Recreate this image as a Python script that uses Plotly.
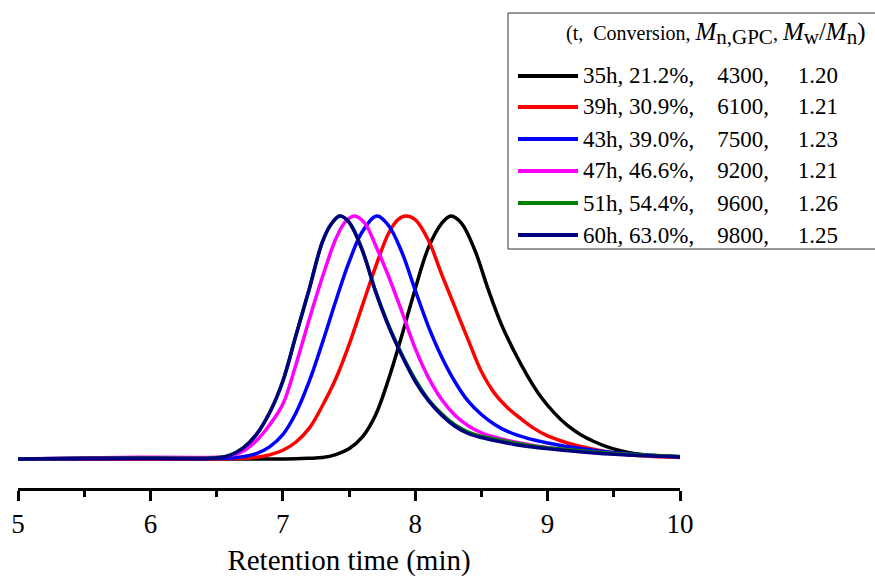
import plotly.graph_objects as go

# ---------------- data ----------------
times = ["35h", "39h", "43h", "47h", "51h", "60h"]
conversions = ["21.2%", "30.9%", "39.0%", "46.6%", "54.4%", "63.0%"]
mn_gpc = ["4300", "6100", "7500", "9200", "9600", "9800"]
pdi = ["1.20", "1.21", "1.23", "1.21", "1.26", "1.25"]
colors = ["#000000", "#FF0000", "#0000FF", "#FF00FF", "#008000", "#000080"]

x_35 = [5.0, 6.0, 6.8, 7.1, 7.2, 7.3, 7.4, 7.5, 7.6, 7.7, 7.8, 7.9, 8.0, 8.1, 8.2, 8.27, 8.35, 8.45, 8.55, 8.65,
        8.75, 8.85, 8.95, 9.05, 9.15, 9.25, 9.35, 9.45, 9.55, 9.65, 9.8, 10.0]
y_35 = [0.0, 0.0, 0.0, 0.001, 0.003, 0.006, 0.018, 0.042, 0.09, 0.18, 0.33, 0.51, 0.70, 0.87, 0.97, 1.0, 0.97, 0.86,
        0.70, 0.555, 0.44, 0.34, 0.255, 0.19, 0.138, 0.10, 0.072, 0.05, 0.034, 0.023, 0.014, 0.008]

x_39 = [5.0, 6.0, 6.5, 6.7, 6.8, 6.9, 7.0, 7.1, 7.2, 7.3, 7.4, 7.5, 7.6, 7.7, 7.8, 7.87, 7.93, 8.0, 8.1, 8.2,
        8.3, 8.4, 8.5, 8.6, 8.7, 8.8, 8.9, 9.0, 9.15, 9.3, 9.5, 9.75, 10.0]
y_39 = [0.0, 0.0, 0.001, 0.003, 0.007, 0.017, 0.036, 0.07, 0.127, 0.22, 0.33, 0.47, 0.63, 0.79, 0.93, 0.985, 1.0,
        0.985, 0.90, 0.76, 0.625, 0.49, 0.36, 0.27, 0.21, 0.165, 0.125, 0.095, 0.066, 0.045, 0.025, 0.012, 0.006]

x_43 = [5.0, 6.0, 6.5, 6.6, 6.7, 6.8, 6.9, 7.0, 7.1, 7.2, 7.3, 7.4, 7.5, 7.6, 7.71, 7.8, 7.9, 8.0, 8.1, 8.2,
        8.3, 8.4, 8.5, 8.6, 8.7, 8.85, 9.0, 9.2, 9.4, 9.7, 10.0]
y_43 = [0.0, 0.002, 0.002, 0.004, 0.009, 0.022, 0.05, 0.10, 0.19, 0.32, 0.48, 0.65, 0.81, 0.935, 1.0, 0.96, 0.85,
        0.695, 0.545, 0.42, 0.318, 0.238, 0.183, 0.142, 0.113, 0.085, 0.066, 0.047, 0.032, 0.018, 0.009]

x_47 = [5.0, 5.5, 5.9, 6.3, 6.5, 6.6, 6.7, 6.8, 6.9, 7.0, 7.1, 7.2, 7.3, 7.4, 7.47, 7.54, 7.62, 7.7, 7.8, 7.9,
        8.0, 8.1, 8.2, 8.3, 8.4, 8.5, 8.6, 8.75, 8.9, 9.1, 9.35, 9.7, 10.0]
y_47 = [0.0, 0.004, 0.007, 0.006, 0.007, 0.013, 0.032, 0.075, 0.14, 0.225, 0.39, 0.575, 0.75, 0.905, 0.975, 1.0,
        0.97, 0.88, 0.75, 0.605, 0.455, 0.335, 0.245, 0.18, 0.137, 0.108, 0.09, 0.07, 0.055, 0.04, 0.028, 0.016, 0.009]

x_51 = [5.0, 5.5, 6.0, 6.4, 6.5, 6.6, 6.7, 6.8, 6.9, 7.0, 7.1, 7.2, 7.3, 7.37, 7.43, 7.5, 7.6, 7.7, 7.8, 7.9,
        8.0, 8.1, 8.2, 8.3, 8.4, 8.5, 8.6, 8.75, 8.9, 9.1, 9.35, 9.7, 10.0]
y_51 = [0.0, 0.003, 0.004, 0.003, 0.005, 0.016, 0.046, 0.10, 0.19, 0.32, 0.51, 0.70, 0.895, 0.97, 1.0, 0.975,
        0.86, 0.692, 0.55, 0.430, 0.328, 0.245, 0.186, 0.141, 0.111, 0.094, 0.082, 0.066, 0.053, 0.041, 0.029, 0.017, 0.010]

x_60 = [5.0, 5.5, 6.0, 6.4, 6.5, 6.6, 6.7, 6.8, 6.9, 7.0, 7.1, 7.2, 7.3, 7.37, 7.43, 7.5, 7.6, 7.7, 7.8, 7.9,
        8.0, 8.1, 8.2, 8.3, 8.4, 8.5, 8.6, 8.75, 8.9, 9.1, 9.35, 9.7, 10.0]
y_60 = [0.0, 0.003, 0.003, 0.002, 0.004, 0.015, 0.045, 0.10, 0.19, 0.32, 0.51, 0.70, 0.895, 0.97, 1.0, 0.975,
        0.86, 0.69, 0.545, 0.425, 0.32, 0.24, 0.18, 0.135, 0.105, 0.088, 0.076, 0.06, 0.048, 0.037, 0.025, 0.014, 0.008]

xs = [x_35, x_39, x_43, x_47, x_51, x_60]
ys = [y_35, y_39, y_43, y_47, y_51, y_60]

x_ticks = [5, 6, 7, 8, 9, 10]

# ---------------- figure ----------------
W, H = 875, 578
ML, MR, MT, MB = 18, 195, 10, 90
PW, PH = W - ML - MR, H - MT - MB

def px(xp):
    return (xp - ML) / PW

def py(yp):
    return (H - MB - yp) / PH

FONT = "Times New Roman, Liberation Serif, serif"
NB = "\u00a0"

fig = go.Figure()
labels = []
for i in range(len(times)):
    lab = f"{times[i]},{NB}{conversions[i]},{NB*4}{mn_gpc[i]},{NB*5}{pdi[i]}"
    labels.append(lab)
    fig.add_trace(go.Scatter(
        x=xs[i], y=ys[i], mode="lines", name=lab,
        line=dict(color=colors[i], width=3.5, shape="spline", smoothing=1.0),
        showlegend=False,
    ))

# y-range so that baseline / peak land where they are in the picture
y_lo = (459 - (H - MB)) / 243.0
y_hi = y_lo + PH / 243.0

fig.update_layout(
    width=W, height=H,
    margin=dict(l=ML, r=MR, t=MT, b=MB, autoexpand=False),
    paper_bgcolor="white", plot_bgcolor="white",
    font=dict(family=FONT, color="black"),
    xaxis=dict(
        range=[5, 10], tickvals=x_ticks, ticktext=[str(v) for v in x_ticks],
        automargin=False,
        showline=True, linecolor="black", linewidth=3,
        ticks="outside", ticklen=10, tickwidth=3, tickcolor="black",
        minor=dict(dtick=0.5, tick0=5, ticks="outside", ticklen=6, tickwidth=3, tickcolor="black"),
        showgrid=False, zeroline=False,
        tickfont=dict(size=27, family=FONT),
        title=dict(text="Retention time (min)", font=dict(size=29, family=FONT), standoff=12),
    ),
    yaxis=dict(range=[y_lo, y_hi], visible=False, showgrid=False, zeroline=False, automargin=False),
)

# ---------------- legend box (drawn manually) ----------------
shapes = [dict(type="rect", xref="paper", yref="paper",
               x0=px(508), x1=px(880), y0=py(249), y1=py(13),
               line=dict(color="#333333", width=1), fillcolor="white", layer="above")]
row_y = [76, 107, 139, 171, 203, 235]
annotations = []
for i in range(len(times)):
    shapes.append(dict(type="line", xref="paper", yref="paper",
                       x0=px(518), x1=px(578), y0=py(row_y[i]), y1=py(row_y[i]),
                       line=dict(color=colors[i], width=4), layer="above"))
    annotations.append(dict(xref="paper", yref="paper", x=px(581), y=py(row_y[i]),
                            xanchor="left", yanchor="middle", showarrow=False,
                            text=labels[i], font=dict(size=23, family=FONT, color="black")))

title_txt = ("(t,\u00a0\u00a0Conversion,\u00a0"
             "<i><span style='font-size:25px'>M</span></i><sub><span style='font-size:21px'>n,GPC</span></sub>,\u00a0"
             "<i><span style='font-size:25px'>M</span></i><sub><span style='font-size:21px'>w</span></sub>"
             "<span style='font-size:25px'>/</span>"
             "<i><span style='font-size:25px'>M</span></i><sub><span style='font-size:21px'>n</span></sub>"
             "<span style='font-size:25px'>)</span>")
annotations.append(dict(xref="paper", yref="paper", x=px(564), y=py(33),
                        xanchor="left", yanchor="middle", showarrow=False,
                        text=title_txt, font=dict(size=20, family=FONT, color="black")))

fig.update_layout(shapes=shapes, annotations=annotations)

fig.write_html("out.html", config={"displayModeBar": False},
               post_script="document.body.style.margin='0';document.body.style.padding='0';")
